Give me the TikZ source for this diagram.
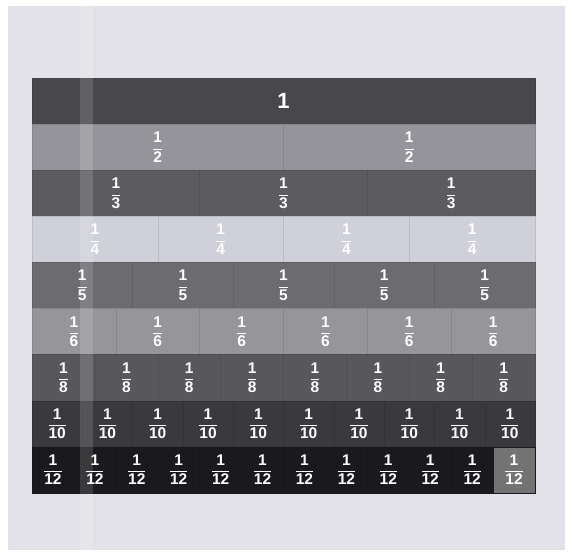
\documentclass[tikz,border=0pt]{standalone}
\usepackage{amsmath}
\usepackage{fontspec}
\setsansfont{Liberation Sans}

% gray tones of the strips, top to bottom
\definecolor{paper}{RGB}{226,226,232}
\definecolor{stripA}{RGB}{72,72,76}
\definecolor{stripB}{RGB}{148,148,154}
\definecolor{stripC}{RGB}{92,92,96}
\definecolor{stripD}{RGB}{208,208,218}
\definecolor{stripE}{RGB}{108,108,112}
\definecolor{stripF}{RGB}{150,150,154}
\definecolor{stripG}{RGB}{88,88,92}
\definecolor{stripH}{RGB}{58,58,62}
\definecolor{stripI}{RGB}{26,26,30}

\newcommand{\unitfrac}[1]{$\displaystyle\frac{\textsf{\textbf{1}}}{\textsf{\textbf{#1}}}$}

\tikzset{
  cell/.style={rectangle, inner sep=0pt, text=white, font=\fontsize{15.5}{17}\sffamily\bfseries,
    minimum height=46.1pt}
}

\begin{document}
\begin{tikzpicture}[x=1pt, y=-1pt]
    \useasboundingbox (0,0) rectangle (571,557);
    % Sheet of paper
    \fill[white] (0,0) rectangle (571,557);
    \fill[paper] (8,6) rectangle (565,550);

    % Whole strip
    \node[cell, fill=stripA, draw=stripA!92!black, minimum width=503pt,
      font=\fontsize{22}{24}\sffamily\bfseries] (whole) at (283.5,101.05) {1};

    % Fraction strips
    \foreach \n/\col [count=\i] in {2/stripB,3/stripC,4/stripD,5/stripE,6/stripF,8/stripG,10/stripH,12/stripI} {
      \pgfmathsetmacro{\w}{503/\n}
      \pgfmathsetmacro{\yc}{101.05+46.1*\i}
      \foreach \k in {1,...,\n} {
        \pgfmathsetmacro{\xc}{32+(\k-0.5)*\w}
        \node[cell, fill=\col, draw=\col!90!black, minimum width=\w pt] (s\n-\k) at (\xc,\yc) {\unitfrac{\n}};
      }
    }

    % Lighter last twelfth
    \node[cell, fill=black!55, draw=stripI, minimum width=41.92pt] (s12-last) at (s12-12) {\unitfrac{12}};

    % Light streak across the photo
    \fill[white, opacity=0.14] (80,0) rectangle (93,557);
\end{tikzpicture}
\end{document}
